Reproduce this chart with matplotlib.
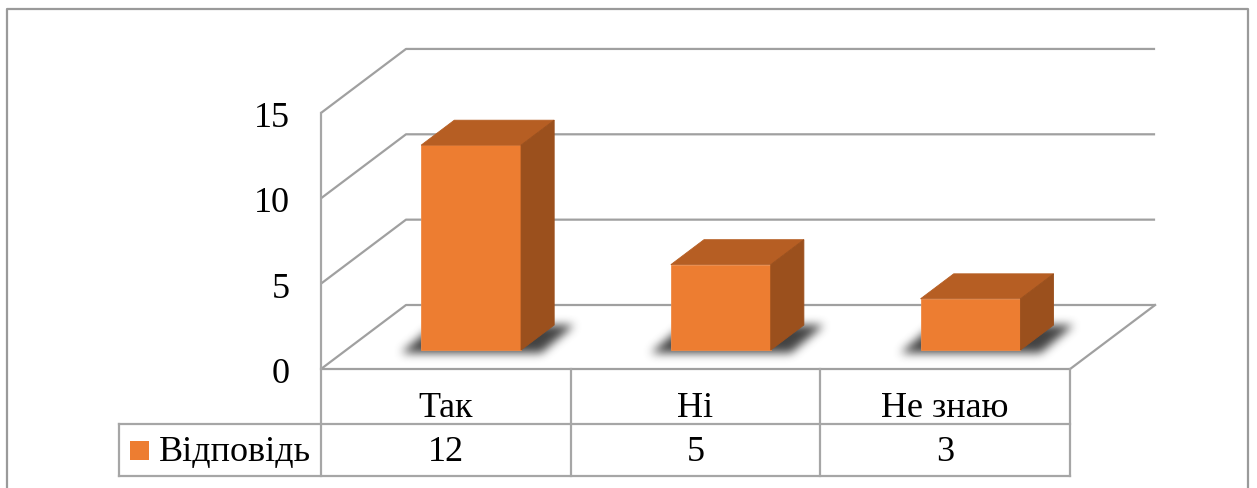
import numpy as np
import matplotlib
matplotlib.use("Agg")
import matplotlib.pyplot as plt
from matplotlib.patches import Polygon, Rectangle
from matplotlib.path import Path
from matplotlib.lines import Line2D

# ---- data -------------------------------------------------------------
categories = ["Так", "Ні", "Не знаю"]
values = [12, 5, 3]
series_name = "Відповідь"
y_ticks = [0, 5, 10, 15]

# ---- figure / coordinate layout ---------------------------------------
W, H, DPI = 1257, 489, 100
fig = plt.figure(figsize=(W / DPI, H / DPI), dpi=DPI)
ax = fig.add_axes([0, 0, 1, 1])
ax.set_axis_off()

X0_PX, Y0_PX = 321, 370      # front-left corner of the floor
CAT_PX = 249.7               # width of one category slot
UNIT_PX = 17.07              # pixels per value unit
ax.set_xlim(-X0_PX / CAT_PX, (W - X0_PX) / CAT_PX)
ax.set_ylim((Y0_PX - H) / UNIT_PX, Y0_PX / UNIT_PX)

DX, DY = 85 / CAT_PX, 64 / UNIT_PX   # offset of the back wall (depth)
n = len(categories)
ymax = y_ticks[-1]

GRID = "#a0a0a0"
FRONT = "#ed7d31"
TOP = "#b65e23"
SIDE = "#9b501d"
FONT = "Liberation Serif"
FS = 26

# ---- walls and gridlines ---------------------------------------------
for v in y_ticks:
    ax.plot([0, DX, n + DX], [v, v + DY, v + DY], color=GRID, lw=1.6,
            zorder=1, solid_capstyle="butt")
ax.plot([0, n, n + DX], [0, 0, DY], color=GRID, lw=1.6, zorder=1)
for v in y_ticks:
    ax.text((290 - X0_PX) / CAT_PX, v - 13 / UNIT_PX, str(v),
            ha="right", va="baseline", fontsize=FS, family=FONT)

# ---- bars -------------------------------------------------------------
d_front, d_back = 0.297, 0.687
bw = 0.4
sx_f, sy_f = d_front * DX, d_front * DY
sx_b, sy_b = d_back * DX, d_back * DY
centers = np.arange(n) + 0.5 + sx_f

# soft shadows of the bar footprints on the floor
px = np.arange(W) + 0.5
py = np.arange(H) + 0.5
PX, PY = np.meshgrid(px, py)
pts = np.column_stack([((PX - X0_PX) / CAT_PX).ravel(),
                       ((Y0_PX - PY) / UNIT_PX).ravel()])
mask = np.zeros(W * H)
ex = 20 / CAT_PX
ey = 3 / UNIT_PX
for c in centers:
    l, r = c - bw / 2, c + bw / 2
    poly = [(l - ex, sy_f - ey), (r + ex, sy_f - ey),
            (r + (sx_b - sx_f) + ex, sy_b), (l + (sx_b - sx_f) - ex, sy_b)]
    mask[Path(poly).contains_points(pts)] = 1.0
mask = mask.reshape(H, W)


def box_blur(a, r, axis):
    pad = [(0, 0), (0, 0)]
    pad[axis] = (r + 1, r)
    c = np.cumsum(np.pad(a, pad, mode="edge"), axis=axis)
    if axis == 0:
        return (c[2 * r + 1:, :] - c[:-2 * r - 1, :]) / (2 * r + 1)
    return (c[:, 2 * r + 1:] - c[:, :-2 * r - 1]) / (2 * r + 1)


for _ in range(3):
    mask = box_blur(mask, 4, 0)
    mask = box_blur(mask, 4, 1)
rgba = np.zeros((H, W, 4))
rgba[..., :3] = 0.22
rgba[..., 3] = np.clip(mask * 0.95, 0, 1)
ax.imshow(rgba, extent=(*ax.get_xlim(), *ax.get_ylim()), origin="upper",
          interpolation="bilinear", aspect="auto", zorder=2)

ax.bar(centers, values, width=bw, bottom=sy_f, color=FRONT,
       edgecolor="#f08a45", lw=0.6, zorder=4)
ddx, ddy = sx_b - sx_f, sy_b - sy_f
for c, v in zip(centers, values):
    l, r = c - bw / 2, c + bw / 2
    top = v + sy_f
    ax.add_patch(Polygon([(l, top), (r, top), (r + ddx, top + ddy),
                          (l + ddx, top + ddy)], closed=True,
                         facecolor=TOP, edgecolor=TOP, lw=0.6, zorder=4))
    ax.add_patch(Polygon([(r, sy_f), (r + ddx, sy_f + ddy),
                          (r + ddx, top + ddy), (r, top)], closed=True,
                         facecolor=SIDE, edgecolor=SIDE, lw=0.6, zorder=4))

# ---- data table -------------------------------------------------------
row1 = (Y0_PX - 425) / UNIT_PX
row2 = (Y0_PX - 477) / UNIT_PX
leg_left = (119 - X0_PX) / CAT_PX
TBL = "#a6a6a6"
ax.plot([leg_left, n], [row1, row1], color=TBL, lw=1.6, zorder=1)
ax.plot([leg_left, n], [row2, row2], color=TBL, lw=1.6, zorder=1)
ax.plot([leg_left, leg_left], [row1, row2], color=TBL, lw=1.6, zorder=1)
ax.plot([0, 0], [ymax, row2], color=TBL, lw=1.6, zorder=1)
for i in range(1, n + 1):
    ax.plot([i, i], [0, row2], color=TBL, lw=1.6, zorder=1)

for i, (cat, v) in enumerate(zip(categories, values)):
    ax.text(i + 0.5, row1 + 8 / UNIT_PX, cat, ha="center", va="baseline",
            fontsize=FS, family=FONT)
    ax.text(i + 0.5, row2 + 16 / UNIT_PX, str(v), ha="center",
            va="baseline", fontsize=FS, family=FONT)

# legend key in the table
ax.add_patch(Rectangle(((130 - X0_PX) / CAT_PX, (Y0_PX - 461) / UNIT_PX),
                       19 / CAT_PX, 19 / UNIT_PX, facecolor=FRONT,
                       edgecolor="none", zorder=3))
ax.text((159 - X0_PX) / CAT_PX, row2 + 16 / UNIT_PX, series_name,
        ha="left", va="baseline", fontsize=FS, family=FONT)

# ---- outer chart border ----------------------------------------------
fig.add_artist(Line2D([7 / W, 7 / W, 1248 / W, 1248 / W],
                      [-0.01, 1 - 10 / H, 1 - 10 / H, -0.01],
                      transform=fig.transFigure, color="#9a9a9a", lw=1.6))

fig.savefig("out.png", dpi=DPI)
